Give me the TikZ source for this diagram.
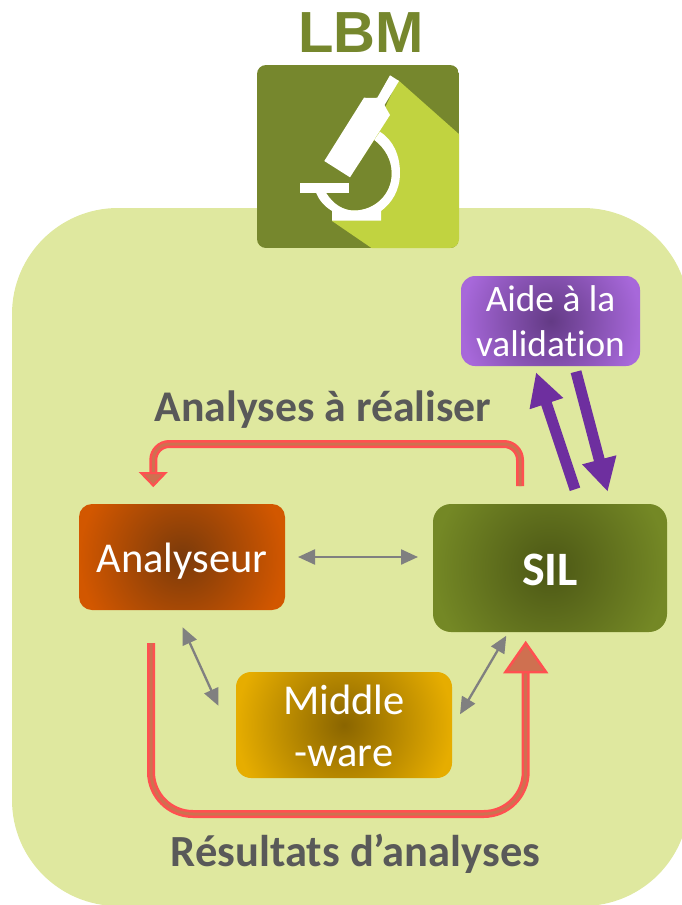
\documentclass[tikz,border=0pt]{standalone}
\usepackage{fontspec}
\setmainfont[Ligatures=NoCommon]{Carlito}
\newfontfamily\lbmfont{Liberation Sans}
\usetikzlibrary{arrows.meta,calc}
\definecolor{bgc}{HTML}{DFE89F}
\definecolor{olive}{HTML}{76872D}
\definecolor{lime}{HTML}{C1D340}
\definecolor{redo}{HTML}{FF5050}
\definecolor{redi}{HTML}{CF7050}
\definecolor{grayt}{HTML}{595959}
\definecolor{grayl}{HTML}{808080}
\definecolor{purp}{HTML}{6E2F9F}
\definecolor{anI}{HTML}{7A3A0A}\definecolor{anO}{HTML}{D25700}
\definecolor{siI}{HTML}{4C5715}\definecolor{siO}{HTML}{748825}
\definecolor{miI}{HTML}{8A6500}\definecolor{miO}{HTML}{E6AD00}
\definecolor{aiI}{HTML}{633A85}\definecolor{aiO}{HTML}{A768DA}
\pgfdeclareradialshading{radAnal}{\pgfpoint{0bp}{0bp}}{color(0bp)=(anI); color(25bp)=(anO); color(50bp)=(anO)}
\pgfdeclareradialshading{radSil}{\pgfpoint{0bp}{0bp}}{color(0bp)=(siI); color(25bp)=(siO); color(50bp)=(siO)}
\pgfdeclareradialshading{radMid}{\pgfpoint{0bp}{0bp}}{color(0bp)=(miI); color(25bp)=(miO); color(50bp)=(miO)}
\pgfdeclareradialshading{radAide}{\pgfpoint{0bp}{0bp}}{color(0bp)=(aiI); color(25bp)=(aiO); color(50bp)=(aiO)}
\newcommand{\lowered}[2]{\raisebox{-#1}[\height][\depth]{#2}}
\tikzset{
  gbox/.style n args={3}{rectangle,rounded corners=#3,text=white,align=center,inner sep=0pt,
    minimum width=#1,minimum height=#2,
    path picture={\shade[shading=\boxshade,shading angle=0]
      ($(path picture bounding box.center)+(-#1/2,-#1/2)$) rectangle ($(path picture bounding box.center)+(#1/2,#1/2)$);}},
  boxtext/.style={font=\fontsize{42.5}{52}\selectfont},
  lbl/.style={font=\fontsize{43.8}{48}\selectfont\bfseries,text=grayt,inner sep=0pt},
  gray arrow/.style={draw=grayl,line width=2.3pt,{Triangle[length=17pt,width=15pt]}-{Triangle[length=17pt,width=15pt]}},
  purple arrow/.style={draw=purp,line width=11pt,-{Triangle[length=33pt,width=33pt]}},
  red outer/.style={draw=redo,line width=8pt,rounded corners=#1},
  red inner/.style={draw=redi,line width=3pt,rounded corners=#1},
}
\begin{document}
\begin{tikzpicture}[x=1pt,y=-1pt]
\useasboundingbox (0,0) rectangle (682,905);
\begin{scope}
\clip (0,0) rectangle (682,905);
\fill[bgc,rounded corners=106pt] (12,208) rectangle (689,906);
\end{scope}
% logo
\begin{scope}
\clip[rounded corners=9pt] (257,65) rectangle (459,248);
\fill[olive] (257,65) rectangle (459,248);
\fill[lime] (398,80) -- (460,135) -- (460,249) -- (373,249) -- (332,221) -- cycle;
\fill[olive] (326,192.7) .. controls (333,204) and (343,210.5) .. (354,210.5) .. controls (375,210.5) and (392,194) .. (391.7,173) .. controls (391.7,160) and (385,148) .. (374.3,140) -- (350,177.3) -- (345,192.7) -- cycle;
\end{scope}
% microscope
\fill[white] (390,75.3) -- (399,81) -- (384.5,105) -- (386,108) -- (390,115) -- (350,177.3) -- (324.3,161) -- (364,97.7) -- (372,98) -- (377.3,97.7) -- cycle;
\fill[white] (380,131.7) .. controls (393,140) and (400,155) .. (400,173) .. controls (400,190) and (392,203) .. (381,211) -- (381,220.7) -- (332,220.7) -- (332,211) .. controls (324,206) and (319,200) .. (316,192.7) -- (326,192.7) .. controls (333,204) and (343,210.5) .. (354,210.5) .. controls (375,210.5) and (392,194) .. (391.7,173) .. controls (391.7,160) and (385,148) .. (374.3,140) -- cycle;
\fill[white] (300,183) rectangle (349,192.7);
\node[font=\lbmfont\bfseries\fontsize{58}{60}\selectfont,text=olive,inner sep=0pt] (lbm) at (361,33) {LBM};
% boxes
\def\boxshade{radAnal}
\node[gbox={206pt}{106pt}{13pt},boxtext] (anal) at (182,557) {\lowered{4pt}{Analyseur}};
\def\boxshade{radSil}
\node[gbox={234pt}{128pt}{18pt},font=\fontsize{48}{54}\selectfont\bfseries] (sil) at (550,568) {\lowered{2pt}{SIL}};
\def\boxshade{radMid}
\node[gbox={216pt}{106pt}{15pt},boxtext] (mid) at (344,725) {\lowered{5.5pt}{\begin{tabular}{@{}c@{}}Middle\\-ware\end{tabular}}};
\def\boxshade{radAide}
\node[gbox={179pt}{90pt}{14pt},font=\fontsize{37.3}{45}\selectfont] (aide) at (550.5,321) {Aide à la\\validation};
% labels
\node[lbl] (todo) at (323,410) {Analyses à réaliser};
\node[lbl,font=\fontsize{44.5}{48}\selectfont\bfseries] (res) at (355.5,853.5) {Résultats d’analyses};
% named free ends
\coordinate (ra) at (520,486);
\coordinate (rb) at (520,444);
\coordinate (rc) at (153.3,444);
\coordinate (rd) at (153.3,473);
\coordinate (re) at (153.3,485.7);
\coordinate (sa) at (151,643);
\coordinate (sb) at (151,814);
\coordinate (sc) at (525.7,814);
\coordinate (sd) at (525.7,672);
\coordinate (se) at (525.7,643);
% red arrows
\draw[red outer=16pt] (ra) -- (rb) -- (rc) -- (rd);
\draw[red inner=16pt] (ra) -- (rb) -- (rc) -- (rd);
\draw[red outer=42pt] (sa) -- (sb) -- (sc) -- (sd);
\draw[red inner=42pt] (sa) -- (sb) -- (sc) -- (sd);
\filldraw[draw=redo,fill=redi,line width=2.5pt,line join=miter] (se) -- (546,672) -- (505.5,672) -- cycle;
\filldraw[draw=redo,fill=redi,line width=2pt] (re) -- (165.5,473) -- (141,473) -- cycle;
% grey arrows
\coordinate (g1a) at (298,557);
\coordinate (g1b) at (418,557);
\coordinate (g2a) at (182.7,627.3);
\coordinate (g2b) at (218.3,705.7);
\coordinate (g3a) at (506.3,635.7);
\coordinate (g3b) at (460,714.3);
\draw[gray arrow] (g1a) -- (g1b);
\draw[gray arrow] (g2a) -- (g2b);
\draw[gray arrow] (g3a) -- (g3b);
% purple arrows
\coordinate (p1a) at (575,489.3);
\coordinate (p1b) at (536,372.3);
\coordinate (p2a) at (576,371.7);
\coordinate (p2b) at (607.7,491.7);
\draw[purple arrow] (p1a) -- (p1b);
\draw[purple arrow] (p2a) -- (p2b);
\end{tikzpicture}
\end{document}
